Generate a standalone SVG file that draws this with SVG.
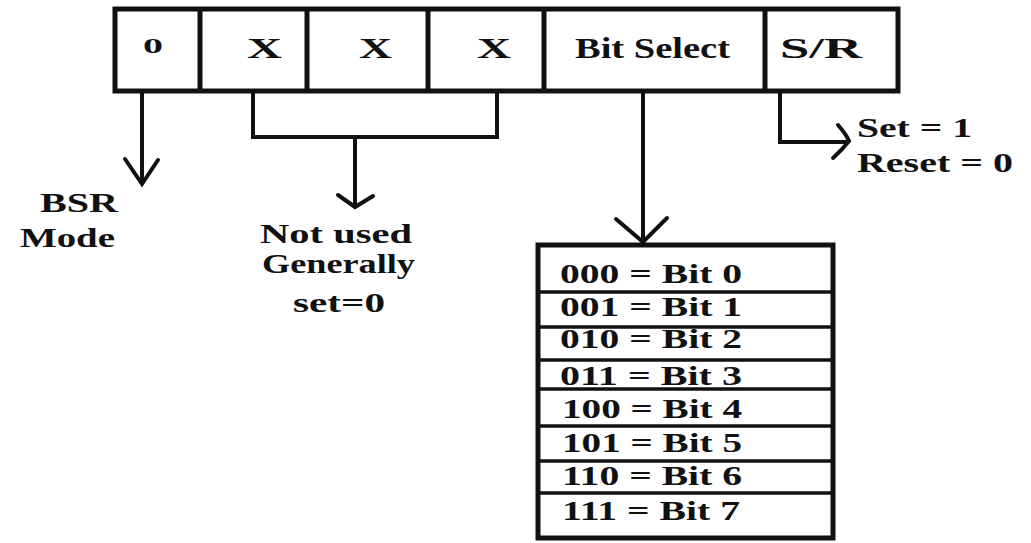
<svg xmlns="http://www.w3.org/2000/svg" width="1031" height="543" viewBox="0 0 1031 543">
  <style>
    .t { font-family: "Liberation Serif", "Times New Roman", serif; font-weight: bold; fill: #111; }
    .big { font-size: 30px; }
    .mid { font-size: 28px; }
    .box { fill: #fff; stroke: #111; stroke-width: 5; }
    .div { stroke: #111; stroke-width: 5; }
    .row { stroke: #111; stroke-width: 3.5; }
    .wire { fill: none; stroke: #111; stroke-width: 4; stroke-linecap: butt; stroke-linejoin: miter; }
    .head { fill: none; stroke: #111; stroke-width: 4; stroke-linecap: round; stroke-linejoin: miter; }
  </style>
  <rect width="1031" height="543" fill="#fff"/>

  <!-- Control word register -->
  <g id="register">
    <rect class="box" x="115" y="9" width="783" height="82"/>
    <line class="div" x1="200" y1="9" x2="200" y2="91"/>
    <line class="div" x1="307" y1="9" x2="307" y2="91"/>
    <line class="div" x1="428" y1="9" x2="428" y2="91"/>
    <line class="div" x1="544" y1="9" x2="544" y2="91"/>
    <line class="div" x1="765" y1="9" x2="765" y2="91"/>
    <text class="t" x="143" y="53" font-size="22" textLength="20" lengthAdjust="spacingAndGlyphs">0</text>
    <text class="t big" x="247" y="58" textLength="35" lengthAdjust="spacingAndGlyphs">X</text>
    <text class="t big" x="359" y="58" textLength="33" lengthAdjust="spacingAndGlyphs">X</text>
    <text class="t big" x="477" y="58" textLength="34" lengthAdjust="spacingAndGlyphs">X</text>
    <text class="t big" x="575" y="58" textLength="155" lengthAdjust="spacingAndGlyphs">Bit Select</text>
    <text class="t big" x="780" y="58" textLength="82" lengthAdjust="spacingAndGlyphs">S/R</text>
  </g>

  <!-- Connectors -->
  <g id="connectors">
    <line class="wire" x1="142" y1="91" x2="142" y2="183"/>
    <path class="head" d="M125,159 L142,184 L158,160"/>

    <path class="wire" d="M253,91 V137 H497 V91"/>
    <line class="wire" x1="355" y1="137" x2="355" y2="206"/>
    <path class="head" d="M338,195 L355,207 L373,196"/>

    <line class="wire" x1="643" y1="91" x2="643" y2="242"/>
    <path class="head" d="M616,219 L643,242 L667,218"/>

    <path class="wire" d="M780,91 V142 H848"/>
    <path class="head" d="M838,125 Q846,134 849,141 Q842,150 833,158"/>
  </g>

  <!-- Labels -->
  <g id="bsr-mode">
    <text class="t mid" x="40" y="212" textLength="78" lengthAdjust="spacingAndGlyphs">BSR</text>
    <text class="t mid" x="20" y="247" textLength="95" lengthAdjust="spacingAndGlyphs">Mode</text>
  </g>

  <g id="not-used">
    <text class="t mid" x="260" y="243" textLength="152" lengthAdjust="spacingAndGlyphs">Not used</text>
    <text class="t mid" x="262" y="273" textLength="153" lengthAdjust="spacingAndGlyphs">Generally</text>
    <text class="t mid" x="293" y="312" textLength="92" lengthAdjust="spacingAndGlyphs">set=0</text>
  </g>

  <g id="set-reset">
    <text class="t mid" x="857" y="137" textLength="115" lengthAdjust="spacingAndGlyphs">Set = 1</text>
    <text class="t mid" x="857" y="172" textLength="156" lengthAdjust="spacingAndGlyphs">Reset = 0</text>
  </g>

  <!-- Bit select table -->
  <g id="bit-table">
    <rect class="box" x="538" y="245" width="295" height="293"/>
    <line class="row" x1="538" y1="292" x2="833" y2="292"/>
    <line class="row" x1="538" y1="327" x2="833" y2="327"/>
    <line class="row" x1="538" y1="360" x2="833" y2="360"/>
    <line class="row" x1="538" y1="389" x2="833" y2="389"/>
    <line class="row" x1="538" y1="426" x2="833" y2="426"/>
    <line class="row" x1="538" y1="461" x2="833" y2="461"/>
    <line class="row" x1="538" y1="493" x2="833" y2="493"/>
    <text class="t mid" x="560" y="283" textLength="182" lengthAdjust="spacingAndGlyphs">000 = Bit 0</text>
    <text class="t mid" x="560" y="316" textLength="182" lengthAdjust="spacingAndGlyphs">001 = Bit 1</text>
    <text class="t mid" x="560" y="348" textLength="182" lengthAdjust="spacingAndGlyphs">010 = Bit 2</text>
    <text class="t mid" x="560" y="385" textLength="182" lengthAdjust="spacingAndGlyphs">011 = Bit 3</text>
    <text class="t mid" x="562" y="418" textLength="180" lengthAdjust="spacingAndGlyphs">100 = Bit 4</text>
    <text class="t mid" x="562" y="452" textLength="180" lengthAdjust="spacingAndGlyphs">101 = Bit 5</text>
    <text class="t mid" x="562" y="485" textLength="180" lengthAdjust="spacingAndGlyphs">110 = Bit 6</text>
    <text class="t mid" x="562" y="520" textLength="178" lengthAdjust="spacingAndGlyphs">111 = Bit 7</text>
  </g>
</svg>
